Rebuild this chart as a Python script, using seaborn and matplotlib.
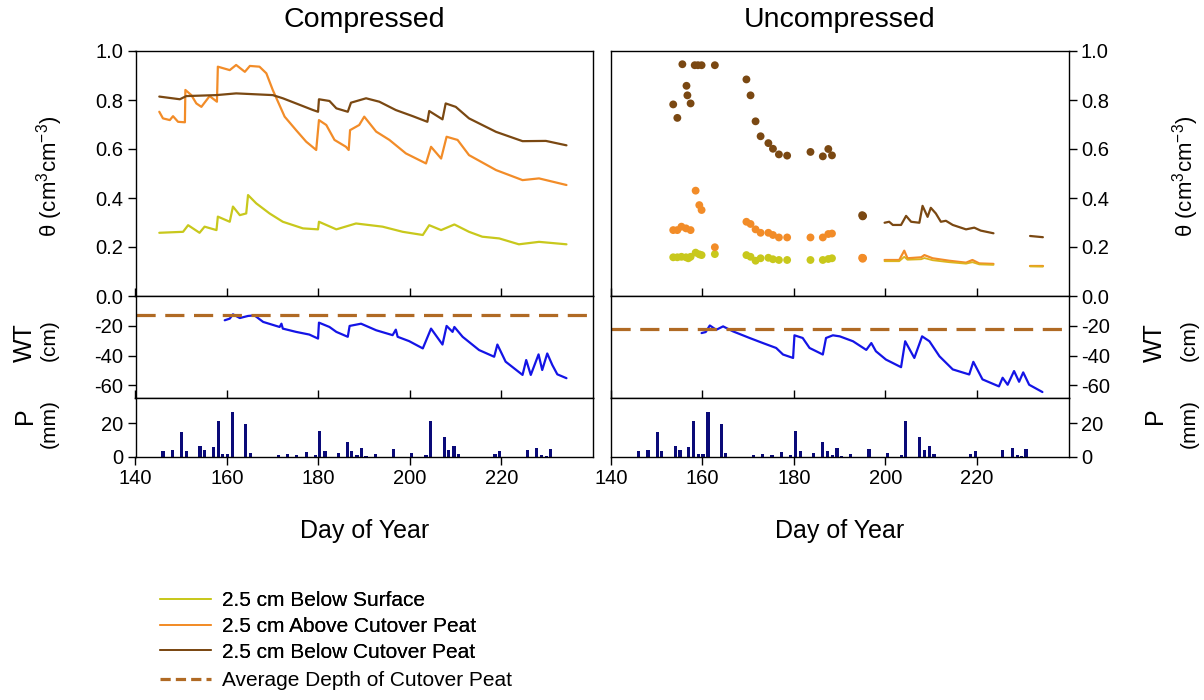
import matplotlib
matplotlib.use("Agg")
import matplotlib.pyplot as plt
import numpy as np
import pandas as pd
import seaborn as sns
from matplotlib.lines import Line2D

# ---------------- data ----------------
# Compressed site: volumetric moisture content (theta)
comp_surf_day = [145.2, 150.4, 151.5, 154.0, 155.1, 157.7, 158.0, 160.6, 161.3, 162.8, 164.2, 164.6,
                 166.4, 169.3, 172.2, 176.6, 179.9, 180.1, 183.9, 188.2, 194.0, 198.4, 202.8, 204.2,
                 206.8, 209.7, 212.9, 215.8, 219.5, 223.8, 228.2, 234.2]
comp_surf_theta = [0.258, 0.262, 0.289, 0.258, 0.283, 0.269, 0.324, 0.303, 0.365, 0.330, 0.337, 0.412,
                   0.378, 0.337, 0.303, 0.276, 0.272, 0.303, 0.272, 0.296, 0.283, 0.262, 0.249, 0.289,
                   0.269, 0.292, 0.262, 0.242, 0.235, 0.211, 0.221, 0.211]

comp_above_day = [145.2, 146.0, 147.5, 148.2, 149.3, 150.8, 150.9, 152.2, 153.3, 154.4, 156.2, 157.8,
                  158.0, 160.6, 162.0, 163.9, 165.0, 167.1, 168.6, 170.0, 172.6, 175.1, 177.3, 179.5,
                  180.1, 181.7, 183.5, 186.0, 186.6, 186.9, 188.9, 190.0, 192.6, 195.5, 199.1, 203.5,
                  204.6, 206.8, 208.0, 210.4, 212.9, 218.8, 224.6, 228.2, 234.2]
comp_above_theta = [0.752, 0.725, 0.718, 0.734, 0.711, 0.709, 0.841, 0.820, 0.786, 0.772, 0.816, 0.793,
                    0.936, 0.922, 0.943, 0.915, 0.939, 0.936, 0.909, 0.841, 0.732, 0.677, 0.630, 0.596,
                    0.718, 0.698, 0.637, 0.609, 0.596, 0.677, 0.698, 0.732, 0.671, 0.637, 0.582, 0.541,
                    0.609, 0.561, 0.650, 0.637, 0.575, 0.514, 0.473, 0.480, 0.453]

comp_below_day = [145.2, 149.7, 151.1, 157.7, 162.0, 170.0, 172.2, 175.1, 178.8, 179.9, 180.1, 182.4,
                  183.9, 186.4, 187.1, 190.4, 193.3, 196.9, 200.6, 203.8, 204.2, 207.1, 207.8, 210.0,
                  212.9, 218.8, 224.6, 229.7, 234.2]
comp_below_theta = [0.814, 0.803, 0.816, 0.820, 0.827, 0.820, 0.807, 0.786, 0.759, 0.752, 0.803, 0.796,
                    0.766, 0.752, 0.789, 0.807, 0.793, 0.759, 0.734, 0.711, 0.755, 0.721, 0.786, 0.772,
                    0.725, 0.670, 0.632, 0.633, 0.615]

# Uncompressed site: manual readings (dots)
unc_surf_dot_day = [153.6, 154.5, 155.4, 156.4, 156.9, 157.4, 158.5, 159.3, 159.8, 162.7, 169.6, 170.5,
                    171.6, 172.7, 174.4, 175.4, 176.7, 178.5, 183.6, 186.3, 187.5, 188.3]
unc_surf_dot_theta = [0.158, 0.158, 0.160, 0.158, 0.154, 0.160, 0.177, 0.170, 0.167, 0.171, 0.167, 0.160,
                      0.144, 0.154, 0.156, 0.150, 0.147, 0.147, 0.147, 0.147, 0.151, 0.154]
unc_above_dot_day = [153.6, 154.5, 155.4, 156.4, 157.4, 158.5, 159.3, 159.8, 162.7, 169.6, 170.5, 171.6,
                     172.7, 174.4, 175.4, 176.7, 178.5, 183.6, 186.3, 187.5, 188.3, 194.9, 195.0, 195.1]
unc_above_dot_theta = [0.269, 0.269, 0.283, 0.276, 0.269, 0.430, 0.371, 0.351, 0.199, 0.303, 0.294, 0.272,
                       0.258, 0.258, 0.249, 0.239, 0.239, 0.239, 0.239, 0.253, 0.255, 0.156, 0.152, 0.155]
unc_below_dot_day = [153.6, 154.5, 155.6, 156.5, 156.7, 157.4, 158.3, 159.0, 159.8, 162.7, 169.6, 170.5,
                     171.6, 172.7, 174.4, 175.4, 176.7, 178.5, 183.6, 186.3, 187.5, 188.3, 194.9, 195.0, 195.1]
unc_below_dot_theta = [0.782, 0.727, 0.946, 0.858, 0.819, 0.786, 0.942, 0.942, 0.942, 0.942, 0.884, 0.819,
                       0.713, 0.652, 0.624, 0.601, 0.578, 0.573, 0.588, 0.570, 0.600, 0.574, 0.330, 0.325, 0.327]

# Uncompressed site: logged series (two segments)
unc_line_day = [199.8, 200.8, 201.6, 203.4, 204.5, 205.6, 207.4, 208.1, 209.2, 209.9, 211.0, 212.1,
                213.2, 214.7, 217.6, 219.4, 220.8, 223.6, 231.6, 234.4]
unc_line_seg = [1] * 18 + [2] * 2
unc_below_theta = [0.299, 0.303, 0.290, 0.290, 0.327, 0.303, 0.299, 0.368, 0.323, 0.360, 0.337, 0.303,
                   0.307, 0.290, 0.272, 0.279, 0.267, 0.256, 0.245, 0.240]
unc_above_day = [199.8, 203.0, 204.1, 204.8, 207.8, 208.5, 210.3, 213.9, 217.6, 219.0, 220.5, 223.6,
                 231.6, 234.4]
unc_above_seg = [1] * 12 + [2] * 2
unc_above_theta = [0.147, 0.147, 0.185, 0.154, 0.158, 0.167, 0.154, 0.144, 0.136, 0.147, 0.133, 0.131,
                   0.124, 0.124]
unc_surf_theta = [0.142, 0.142, 0.160, 0.148, 0.150, 0.155, 0.146, 0.138, 0.132, 0.138, 0.129, 0.127,
                  0.121, 0.120]

# Water table (cm)
comp_wt_day = [159.5, 160.6, 161.3, 162.8, 164.6, 166.0, 167.9, 171.5, 171.9, 172.2, 175.1, 178.0, 179.9,
               180.1, 182.4, 183.9, 186.4, 186.8, 189.3, 192.6, 196.2, 196.9, 197.3, 199.8, 202.8, 204.6,
               207.1, 208.0, 209.3, 209.7, 211.5, 215.1, 218.4, 219.1, 220.9, 224.6, 225.4, 226.4, 228.1,
               228.9, 230.0, 231.1, 232.2, 234.2]
comp_wt = [-16.3, -15.2, -12.3, -14.8, -13.4, -13.0, -17.4, -20.8, -18.6, -21.9, -24.1, -25.9, -28.6,
           -17.9, -20.8, -24.1, -27.4, -20.1, -18.6, -23.0, -26.3, -22.6, -27.4, -30.3, -35.2, -21.9,
           -32.6, -20.1, -24.1, -20.8, -27.4, -36.3, -40.8, -32.6, -44.1, -53.0, -43.0, -53.0, -39.2,
           -49.7, -38.6, -46.3, -52.6, -55.2]
unc_wt_day = [159.8, 160.7, 161.6, 163.0, 164.5, 166.7, 170.3, 173.2, 176.1, 177.6, 179.8, 180.1, 181.9,
              183.4, 186.3, 187.0, 188.5, 190.0, 192.9, 195.8, 196.9, 197.9, 200.1, 203.4, 204.3, 206.3,
              208.0, 209.6, 211.8, 214.7, 218.3, 219.2, 221.2, 224.8, 225.6, 226.7, 228.1, 229.2, 230.1,
              231.4, 234.3]
unc_wt = [-24.9, -24.2, -19.8, -22.7, -20.4, -23.8, -28.2, -31.6, -34.9, -39.3, -41.6, -26.4, -28.2,
          -34.9, -39.3, -28.2, -26.4, -27.1, -30.4, -36.2, -31.6, -37.1, -42.7, -47.8, -30.4, -41.6,
          -27.1, -30.4, -40.5, -49.3, -52.7, -44.2, -56.0, -60.7, -54.9, -59.6, -50.4, -57.6, -51.3,
          -59.6, -64.5]
peat_depth = {"Compressed": -13.0, "Uncompressed": -22.0}

# Precipitation (mm)
rain_day = [146.0, 148.1, 150.1, 151.1, 154.1, 155.1, 157.0, 158.1, 159.1, 160.1, 161.2, 164.1, 165.1,
            171.2, 173.2, 175.2, 177.3, 179.3, 180.3, 181.4, 184.3, 186.3, 187.3, 188.4, 189.4, 190.4,
            192.4, 196.4, 200.4, 203.5, 204.4, 207.5, 208.5, 209.6, 210.6, 218.6, 219.6, 225.6, 227.7,
            228.8, 229.8, 230.7]
rain_mm = [3.4, 4.0, 14.6, 3.4, 6.6, 4.4, 6.0, 21.4, 1.8, 1.8, 26.6, 19.6, 2.4,
           1.4, 2.0, 1.0, 2.8, 1.0, 15.6, 3.4, 2.4, 8.8, 3.4, 1.0, 5.6, 0.6,
           1.8, 5.0, 2.4, 1.4, 21.4, 12.0, 4.0, 6.6, 2.0, 1.8, 3.8, 4.0, 5.2,
           1.4, 0.8, 4.6]

titles = ["Compressed", "Uncompressed"]
legend_labels = ["2.5 cm Below Surface", "2.5 cm Above Cutover Peat", "2.5 cm Below Cutover Peat",
                 "Average Depth of Cutover Peat"]
x_ticks = [140, 160, 180, 200, 220]

# ---------------- style ----------------
sns.set_theme(style="ticks")
plt.rcParams["font.family"] = ["Liberation Sans", "DejaVu Sans"]
plt.rcParams["mathtext.fontset"] = "custom"
plt.rcParams["mathtext.rm"] = "Liberation Sans"
plt.rcParams["mathtext.it"] = "Liberation Sans:italic"
plt.rcParams["axes.unicode_minus"] = False
for k in ("text.color", "axes.labelcolor", "xtick.color", "ytick.color", "axes.edgecolor"):
    plt.rcParams[k] = "black"

C_SURF = "#c8c81c"
C_ABOVE = "#f28c28"
C_BELOW = "#7a4812"
C_DASH = "#b06a24"
C_WT = "#1414e6"
C_RAIN = "#0a0a78"
TICK_FS = 14.5

W, H = 1204, 700
fig = plt.figure(figsize=(W / 100, H / 100), dpi=100)


def rect(x0, y_top, x1, y_bot):
    return [x0 / W, 1 - y_bot / H, (x1 - x0) / W, (y_bot - y_top) / H]


cols = [(135.5, 593.0), (611.0, 1068.5)]
rows = {"theta": (51, 296), "wt": (296, 398), "p": (398, 457)}

for i, (x0, x1) in enumerate(cols):
    ax_t = fig.add_axes(rect(x0, rows["theta"][0], x1, rows["theta"][1]))
    ax_w = fig.add_axes(rect(x0, rows["wt"][0], x1, rows["wt"][1]))
    ax_p = fig.add_axes(rect(x0, rows["p"][0], x1, rows["p"][1]))

    if i == 0:
        sns.lineplot(x=comp_surf_day, y=comp_surf_theta, ax=ax_t, color=C_SURF, lw=1.6, sort=False)
        sns.lineplot(x=comp_above_day, y=comp_above_theta, ax=ax_t, color=C_ABOVE, lw=1.6, sort=False)
        sns.lineplot(x=comp_below_day, y=comp_below_theta, ax=ax_t, color=C_BELOW, lw=1.6, sort=False)
        sns.lineplot(x=comp_wt_day, y=comp_wt, ax=ax_w, color=C_WT, lw=1.6, sort=False)
    else:
        dfb = pd.DataFrame({"day": unc_line_day, "theta": unc_below_theta, "seg": unc_line_seg})
        dfa = pd.DataFrame({"day": unc_above_day, "above": unc_above_theta, "surf": unc_surf_theta,
                            "seg": unc_above_seg})
        sns.lineplot(data=dfa, x="day", y="above", units="seg", estimator=None, ax=ax_t,
                     color=C_ABOVE, lw=1.6)
        sns.lineplot(data=dfa, x="day", y="surf", units="seg", estimator=None, ax=ax_t,
                     color="#dcb41e", lw=1.3)
        sns.lineplot(data=dfb, x="day", y="theta", units="seg", estimator=None, ax=ax_t,
                     color=C_BELOW, lw=1.6)
        sns.scatterplot(x=unc_surf_dot_day, y=unc_surf_dot_theta, ax=ax_t, color=C_SURF, s=32,
                        edgecolor="none")
        sns.scatterplot(x=unc_above_dot_day, y=unc_above_dot_theta, ax=ax_t, color=C_ABOVE, s=32,
                        edgecolor="none")
        sns.scatterplot(x=unc_below_dot_day, y=unc_below_dot_theta, ax=ax_t, color=C_BELOW, s=32,
                        edgecolor="none")
        sns.lineplot(x=unc_wt_day, y=unc_wt, ax=ax_w, color=C_WT, lw=1.6, sort=False)

    ax_w.axhline(peat_depth[titles[i]], color=C_DASH, lw=2.3, dashes=(6, 3))
    ax_p.bar(rain_day, rain_mm, width=0.7, color=C_RAIN, linewidth=0)

    # limits & ticks
    for ax in (ax_t, ax_w, ax_p):
        ax.set_xlim(140, 240)
        ax.set_xticks(x_ticks)
        ax.set_xlabel("")
        ax.set_ylabel("")
        for s in ax.spines.values():
            s.set_visible(True)
            s.set_color("black")
            s.set_linewidth(1.0)
    ax_t.set_ylim(0, 1.0)
    ax_t.set_yticks([0.0, 0.2, 0.4, 0.6, 0.8, 1.0])
    ax_t.set_yticklabels(["0.0", "0.2", "0.4", "0.6", "0.8", "1.0"])
    ax_w.set_ylim(-68.5, 0)
    ax_w.set_yticks([-60, -40, -20])
    ax_w.set_yticklabels(["-60", "-40", "-20"])
    ax_p.set_ylim(0, 35)
    ax_p.set_yticks([0, 20])
    ax_p.set_yticklabels(["0", "20"])

    for ax in (ax_t, ax_w):
        ax.tick_params(axis="x", direction="in", length=6, width=1, labelbottom=False, bottom=True)
    ax_p.tick_params(axis="x", direction="out", length=6, width=1, labelsize=TICK_FS, pad=3,
                     colors="black")
    for ax in (ax_t, ax_w, ax_p):
        if i == 1:
            ax.yaxis.tick_right()
        ax.tick_params(axis="y", direction="out", length=6, width=1, labelsize=TICK_FS, pad=3,
                       colors="black")

    cx = (x0 + x1) / 2
    fig.text(cx / W, 1 - 20 / H, titles[i], ha="center", va="center", fontsize=20.5)
    fig.text(cx / W, 1 - 531 / H, "Day of Year", ha="center", va="center", fontsize=18)

# side labels
theta_lab = r"θ (cm$^{3}$cm$^{-3}$)"
fig.text(50 / W, 1 - 176 / H, theta_lab, rotation=90, ha="center", va="center", fontsize=16)
fig.text(1186 / W, 1 - 176 / H, theta_lab, rotation=90, ha="center", va="center", fontsize=16)
for xw, xc in [(25, 49), (1155, 1189)]:
    fig.text(xw / W, 1 - 343 / H, "WT", rotation=90, ha="center", va="center", fontsize=18)
    fig.text(xc / W, 1 - 340 / H, "(cm)", rotation=90, ha="center", va="center", fontsize=15)
    fig.text(xw / W, 1 - 416 / H, "P", rotation=90, ha="center", va="center", fontsize=18)
    fig.text(xc / W, 1 - 424 / H, "(mm)", rotation=90, ha="center", va="center", fontsize=15)

# legends
solid = [Line2D([], [], color=c, lw=1.3) for c in (C_SURF, C_ABOVE, C_BELOW)]
leg1 = fig.legend(solid, legend_labels[:3], loc="upper left", bbox_to_anchor=(160 / W, 1 - 591 / H),
                  frameon=False, fontsize=15, handlelength=2.45, handletextpad=0.55,
                  labelspacing=0.33, borderpad=0, borderaxespad=0)
dash = [Line2D([], [], color=C_DASH, lw=2.3, dashes=(3.2, 1.6))]
fig.legend(dash, legend_labels[3:], loc="upper left", bbox_to_anchor=(160 / W, 1 - 671 / H),
           frameon=False, fontsize=15, handlelength=2.45, handletextpad=0.55,
           borderpad=0, borderaxespad=0)
fig.add_artist(leg1)

fig.savefig("out.png", dpi=100)
